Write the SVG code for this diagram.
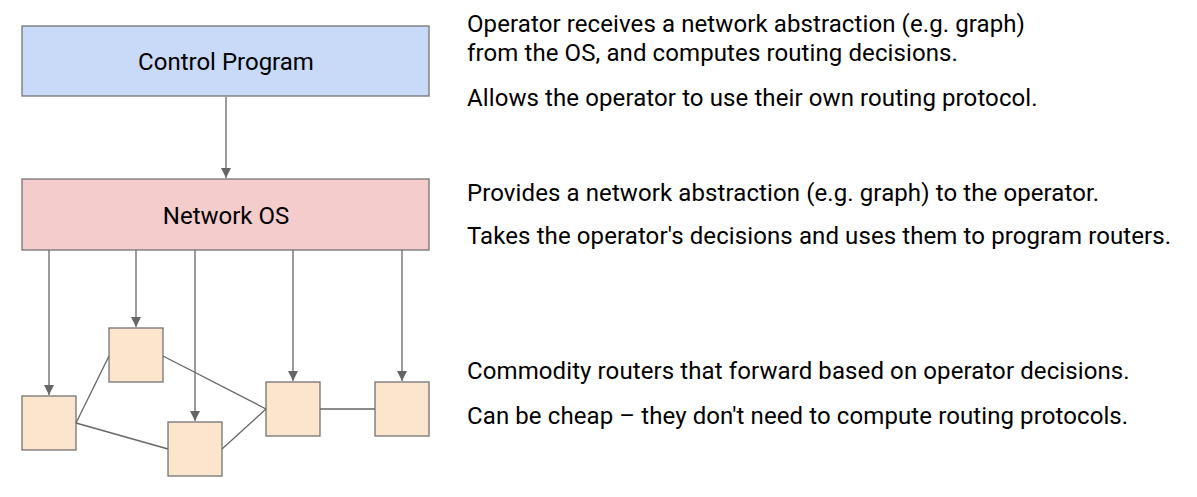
<svg xmlns="http://www.w3.org/2000/svg" width="1197" height="497" viewBox="0 0 1197 497">
<style>
.box{stroke:#747474;stroke-width:1.3}
.router{fill:#fce5cd;stroke:#747474;stroke-width:1.3}
.lbl{font-family:Roboto,"Liberation Sans",sans-serif;font-size:24px;fill:#000}
.desc{letter-spacing:0.1px}
.edge{stroke:#666;stroke-width:1.3;fill:none}
</style>
<defs>
<marker id="arr" viewBox="0 0 10 10" refX="10" refY="5" markerWidth="10" markerHeight="10" markerUnits="userSpaceOnUse" orient="auto">
<path d="M0,0 L10,5 L0,10 z" fill="#666"/>
</marker>
</defs>
<rect width="1197" height="497" fill="#fff"/>
<g id="control-program">
<rect class="box" x="22" y="26" width="407" height="70" fill="#c9daf8"/>
<text class="lbl" x="226" y="70" text-anchor="middle">Control Program</text>
</g>
<g id="network-os">
<rect class="box" x="22" y="179" width="407" height="71" fill="#f4cccc"/>
<text class="lbl" x="226" y="224" text-anchor="middle">Network OS</text>
</g>
<g id="r1"><rect class="router" x="22" y="396" width="54" height="54"/></g>
<g id="r2"><rect class="router" x="109" y="328" width="54" height="54"/></g>
<g id="r3"><rect class="router" x="168" y="422" width="54" height="54"/></g>
<g id="r4"><rect class="router" x="266" y="382" width="54" height="54"/></g>
<g id="r5"><rect class="router" x="375" y="382" width="54" height="54"/></g>
<g id="connectors">
<line class="edge" x1="226" y1="97" x2="226" y2="178" marker-end="url(#arr)"/>
<line class="edge" x1="49" y1="250" x2="49" y2="395" marker-end="url(#arr)"/>
<line class="edge" x1="136" y1="250" x2="136" y2="327" marker-end="url(#arr)"/>
<line class="edge" x1="195" y1="250" x2="195" y2="421" marker-end="url(#arr)"/>
<line class="edge" x1="293" y1="250" x2="293" y2="381" marker-end="url(#arr)"/>
<line class="edge" x1="402" y1="250" x2="402" y2="381" marker-end="url(#arr)"/>
<line class="edge" x1="76" y1="423" x2="109" y2="356"/>
<line class="edge" x1="76" y1="423" x2="168" y2="449"/>
<line class="edge" x1="163" y1="356" x2="266" y2="409"/>
<line class="edge" x1="222" y1="449" x2="266" y2="409"/>
<line class="edge" x1="320" y1="409" x2="375" y2="409"/>
</g>
<g id="descriptions">
<text class="lbl desc" x="467" y="32">Operator receives a network abstraction (e.g. graph)</text>
<text class="lbl desc" x="467" y="61">from the OS, and computes routing decisions.</text>
<text class="lbl desc" x="467" y="106">Allows the operator to use their own routing protocol.</text>
<text class="lbl desc" x="467" y="201">Provides a network abstraction (e.g. graph) to the operator.</text>
<text class="lbl desc" x="467" y="244">Takes the operator's decisions and uses them to program routers.</text>
<text class="lbl desc" x="467" y="379">Commodity routers that forward based on operator decisions.</text>
<text class="lbl desc" x="467" y="424">Can be cheap – they don't need to compute routing protocols.</text>
</g>
</svg>
